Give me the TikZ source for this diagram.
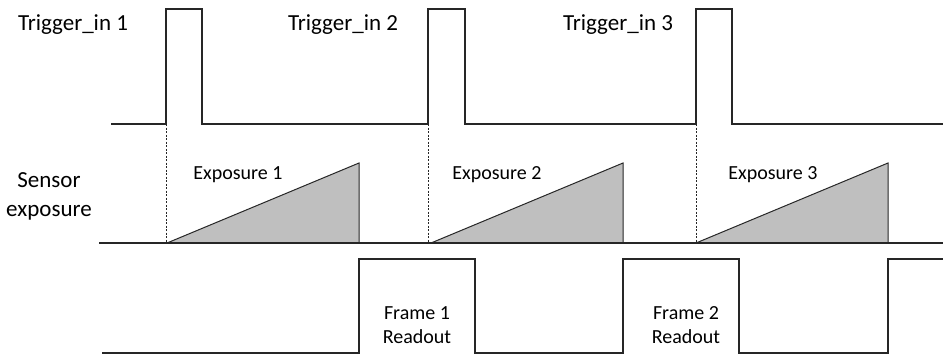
\documentclass[tikz,border=0pt]{standalone}
\usepackage{fontspec}
\setmainfont{Carlito}
\begin{document}
\begin{tikzpicture}[x=1pt,y=-1pt,
  sig/.style={draw=black!85, line width=1.3pt, line join=miter},
  ramp/.style={draw=black!85, fill=black!25, line width=1pt},
  guide/.style={draw=black!85, line width=0.6pt, dash pattern=on 2pt off 1.5pt},
  biglabel/.style={font=\fontsize{23}{29}\selectfont, align=center, inner sep=0pt},
  smalllabel/.style={font=\fontsize{20}{24}\selectfont, align=center, inner sep=0pt}]
\useasboundingbox (0,0) rectangle (943,354);

% trigger input
\node[biglabel] (t1) at (73,25) {Trigger\_in 1};
\node[biglabel] (t2) at (343,25) {Trigger\_in 2};
\node[biglabel] (t3) at (618,25) {Trigger\_in 3};
\draw[sig] (111,124) -- (166,124) -- (166,9) -- (202,9) -- (202,124)
  -- (428,124) -- (428,9) -- (465,9) -- (465,124)
  -- (696,124) -- (696,9) -- (732,9) -- (732,124) -- (943,124);

% exposure start
\draw[guide] (166,124) -- (166,243);
\draw[guide] (428,124) -- (428,243);
\draw[guide] (696,124) -- (696,243);

% sensor exposure
\node[biglabel] (se) at (49,196) {Sensor\\exposure};
\filldraw[ramp] (167,243) -- (359,163) -- (359,243) -- cycle;
\filldraw[ramp] (431,243) -- (623,163) -- (623,243) -- cycle;
\filldraw[ramp] (696,243) -- (888,163) -- (888,243) -- cycle;
\node[smalllabel] (e1) at (238,175) {Exposure 1};
\node[smalllabel] (e2) at (497,175) {Exposure 2};
\node[smalllabel] (e3) at (773,175) {Exposure 3};
\draw[sig] (99,243) -- (943,243);

% readout
\draw[sig] (102,353) -- (359,353) -- (359,259) -- (475,259) -- (475,353)
  -- (623,353) -- (623,259) -- (739,259) -- (739,353)
  -- (888,353) -- (888,259) -- (943,259);
\node[smalllabel] (r1) at (417,325) {Frame 1\\Readout};
\node[smalllabel] (r2) at (686,325) {Frame 2\\Readout};
\end{tikzpicture}
\end{document}
